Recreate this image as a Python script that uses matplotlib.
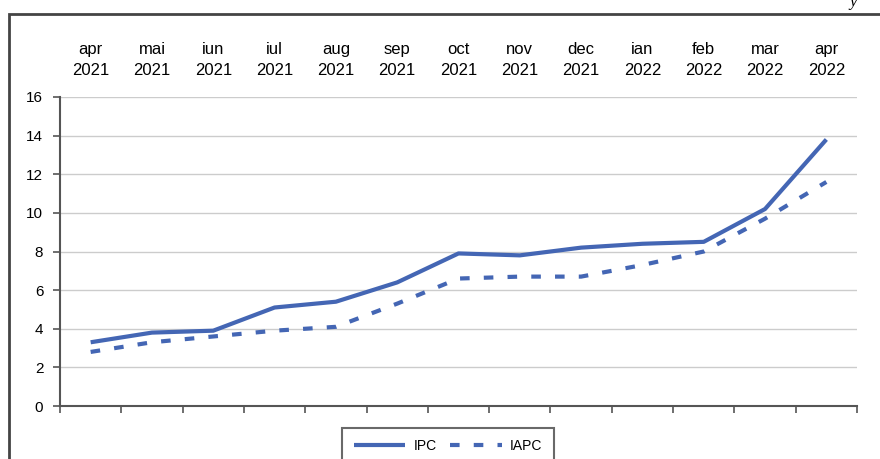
import numpy as np
import matplotlib.pyplot as plt
from matplotlib.patches import Rectangle

luni = ["apr\n2021", "mai\n2021", "iun\n2021", "iul\n2021", "aug\n2021", "sep\n2021",
        "oct\n2021", "nov\n2021", "dec\n2021", "ian\n2022", "feb\n2022", "mar\n2022", "apr\n2022"]
ipc = [3.3, 3.8, 3.9, 5.1, 5.4, 6.4, 7.9, 7.8, 8.2, 8.4, 8.5, 10.2, 13.8]
iapc = [2.8, 3.3, 3.6, 3.9, 4.1, 5.3, 6.6, 6.7, 6.7, 7.3, 8.0, 9.7, 11.6]

plt.rcParams['font.family'] = ['Liberation Sans', 'DejaVu Sans']
albastru = "#4466b4"

fig = plt.figure(figsize=(8.8, 4.59), dpi=100)
ax = fig.add_axes([60/880, 1-406/459, 797/880, 309/459])

x = np.arange(len(luni))
ax.plot(x, ipc, color=albastru, lw=3, label="IPC", solid_capstyle="butt")
ax.plot(x, iapc, color=albastru, lw=3, ls=(0, (2.3, 3.4)), label="IAPC")

ax.set_xlim(-0.5, len(luni) - 0.5)
ax.set_ylim(0, 16)
ax.set_yticks(range(0, 17, 2))
ax.set_xticks(np.arange(-0.5, len(luni), 1))
ax.set_xticklabels([])
ax.tick_params(axis="x", direction="out", length=5, width=1.2, color="#555555")
ax.tick_params(axis="y", direction="out", length=5, width=1.2, color="#555555",
               labelsize=11, pad=7)
ax.grid(axis="y", color="#cccccc", lw=1)
ax.set_axisbelow(True)
for s in ["top", "right"]:
    ax.spines[s].set_visible(False)
for s in ["left", "bottom"]:
    ax.spines[s].set_color("#555555")
    ax.spines[s].set_linewidth(1.5)

# etichetele lunilor sus
for i, lab in enumerate(luni):
    ax.text(i, 17.0, lab, ha="center", va="bottom", fontsize=12, linespacing=1.45,
            transform=ax.transData, clip_on=False)

leg = fig.legend(loc="upper center", bbox_to_anchor=(448/880, 1-428/459), ncol=2,
                 frameon=True, fancybox=False, fontsize=10, handlelength=3.7,
                 columnspacing=1.0, handletextpad=0.6, borderpad=0.8,
                 borderaxespad=0)
leg.get_frame().set_edgecolor("#444444")
leg.get_frame().set_linewidth(1.5)

fig.patches.append(Rectangle((9/880, -0.2), 1.1, 1.2 - 14/459,
                             transform=fig.transFigure, fill=False,
                             edgecolor="#444444", lw=2))
fig.text(853/880, 0.995, "y", ha="center", va="center", fontsize=12, style="italic",
         family="Liberation Serif")

fig.savefig("out.png", dpi=100)
